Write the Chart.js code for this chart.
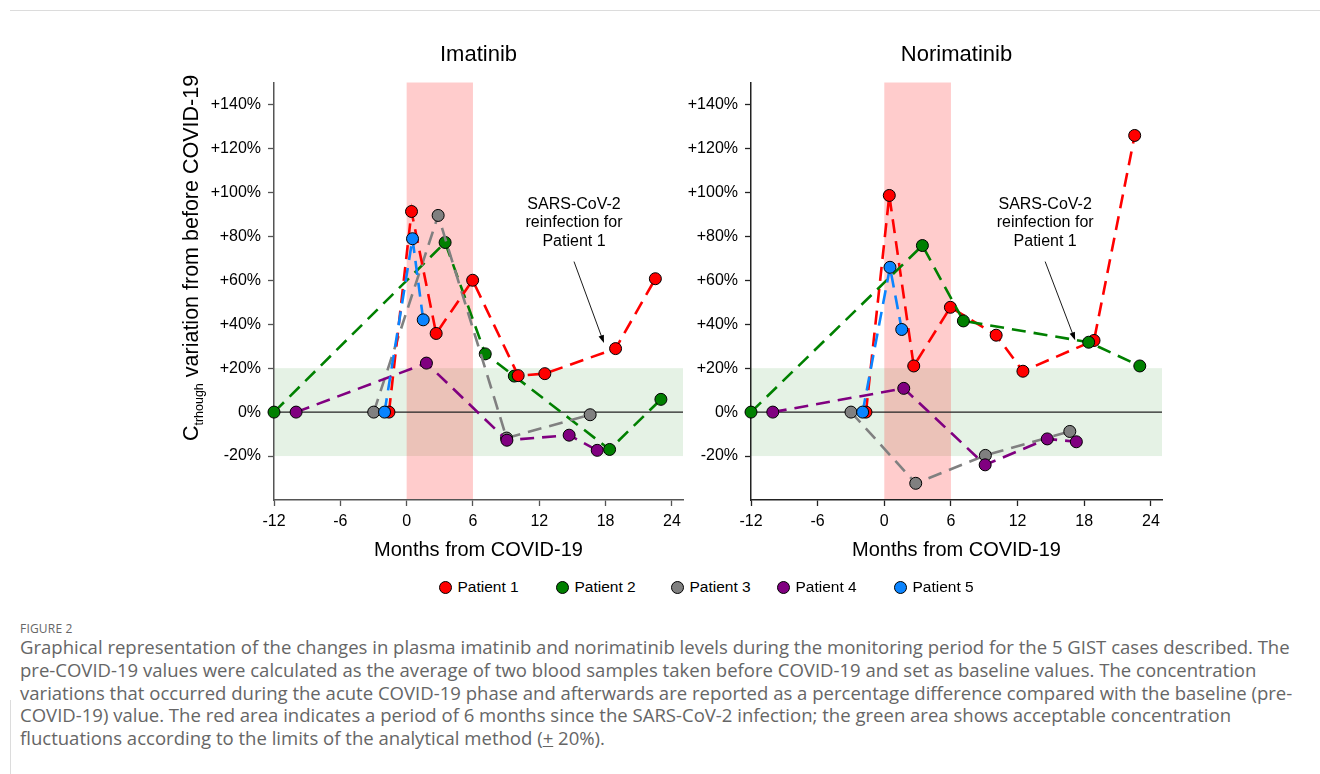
<!DOCTYPE html>
<html>
<head>
<meta charset="utf-8">
<script src="https://cdn.jsdelivr.net/npm/chart.js@4.4.1/dist/chart.umd.min.js"></script>
<style>
html,body{margin:0;padding:0;background:#fff;}
body{width:1320px;height:774px;overflow:hidden;position:relative;font-family:"Liberation Sans",Arial,sans-serif;}
#c1{position:absolute;left:150px;top:30px;}
#c2{position:absolute;left:680px;top:30px;}
#topline{position:absolute;left:10px;top:10px;width:1310px;height:1px;background:#dcdcdc;}
#leftline{position:absolute;left:10px;top:700px;width:1px;height:74px;background:#dcdcdc;}
.leg{position:absolute;top:578px;height:18px;font-size:15.5px;line-height:18px;color:#000;white-space:nowrap;}
.leg i{position:absolute;top:3px;width:11px;height:11px;border:1px solid #000;border-radius:50%;}
.leg span{position:absolute;top:0;}
#figlab{position:absolute;left:20px;top:620px;font-family:"Open Sans","Noto Sans",sans-serif;font-size:12px;color:#666;letter-spacing:0.2px;}
#cap{position:absolute;left:20px;top:636px;font-family:"Open Sans","Noto Sans",sans-serif;color:#666;line-height:22.8px;white-space:nowrap;}
</style>
</head>
<body>
<div id="topline"></div>
<div id="leftline"></div>
<canvas id="c1" width="540" height="545"></canvas>
<canvas id="c2" width="520" height="545"></canvas>
<div id="legend"></div>
<div id="figlab">FIGURE 2</div>
<div id="cap"><span class="ln">Graphical representation of the changes in plasma imatinib and norimatinib levels during the monitoring period for the 5 GIST cases described. The</span><br><span class="ln">pre-COVID-19 values were calculated as the average of two blood samples taken before COVID-19 and set as baseline values. The concentration</span><br><span class="ln">variations that occurred during the acute COVID-19 phase and afterwards are reported as a percentage difference compared with the baseline (pre-</span><br><span class="ln">COVID-19) value. The red area indicates a period of 6 months since the SARS-CoV-2 infection; the green area shows acceptable concentration</span><br><span class="ln">fluctuations according to the limits of the analytical method (<u>+</u> 20%).</span></div>
<script>
// ---------- DATA ----------
const patientNames = ['Patient 1','Patient 2','Patient 3','Patient 4','Patient 5'];
const patientColors = ['#ff0000','#008000','#808080','#800080','#0a84ff'];
const monthTicks = [-12,-6,0,6,12,18,24];
const pctTicks = [-20,0,20,40,60,80,100,120,140];
const noteLines = ['SARS-CoV-2','reinfection for','Patient 1'];

// Imatinib (months from COVID-19, % variation)
const imaP1Months = [-1.6, 0.44, 2.67, 5.97, 10.09, 12.5, 18.9, 22.5];
const imaP1Pct    = [0, 91.3, 35.8, 60.0, 16.6, 17.5, 28.9, 60.7];
const imaP2Months = [-12, 3.48, 7.11, 9.74, 18.36, 23.0];
const imaP2Pct    = [0, 77.2, 26.5, 16.4, -17.0, 5.8];
const imaP3Months = [-2.98, 2.85, 9.04, 16.6];
const imaP3Pct    = [0, 89.5, -11.8, -1.2];
const imaP4Months = [-10.0, 1.79, 9.07, 14.7, 17.24];
const imaP4Pct    = [0, 22.3, -12.8, -10.5, -17.4];
const imaP5Months = [-2.0, 0.53, 1.5];
const imaP5Pct    = [0, 78.9, 42.0];

// Norimatinib
const norP1Months = [-1.65, 0.45, 2.65, 5.95, 10.07, 12.48, 18.88, 22.54];
const norP1Pct    = [0, 98.6, 21.0, 47.7, 35.0, 18.6, 32.6, 125.9];
const norP2Months = [-12, 3.43, 7.12, 18.4, 23.0];
const norP2Pct    = [0, 75.8, 41.5, 31.8, 21.0];
const norP3Months = [-3.0, 2.83, 9.1, 16.7];
const norP3Pct    = [0, -32.4, -19.7, -8.8];
const norP4Months = [-10.04, 1.75, 9.08, 14.67, 17.29];
const norP4Pct    = [0, 10.8, -24.0, -12.2, -13.5];
const norP5Months = [-1.95, 0.51, 1.57];
const norP5Pct    = [0, 65.9, 37.6];

const acutePeriod = [0, 6];
const acceptableRange = [-20, 20];
// ---------------------------

const FONT = '"Liberation Sans", Arial, sans-serif';

function ds(i, xs, ys, order) {
  return {
    label: patientNames[i],
    data: xs.map((x, k) => ({x: x, y: ys[k]})),
    borderColor: patientColors[i],
    backgroundColor: patientColors[i],
    pointBackgroundColor: patientColors[i],
    pointBorderColor: '#000',
    pointBorderWidth: 1,
    pointRadius: 6,
    pointHoverRadius: 6,
    borderWidth: 2.6,
    borderDash: [14, 8],
    tension: 0,
    fill: false,
    clip: false,
    order: order
  };
}

const decorPlugin = {
  id: 'decor',
  beforeDraw(chart, args, o) {
    const {ctx, chartArea: a, scales: {x, y}} = chart;
    ctx.save();
    const yt = y.getPixelForValue(acceptableRange[1]);
    const yb = y.getPixelForValue(acceptableRange[0]);
    ctx.fillStyle = 'rgba(0,128,0,0.1)';
    ctx.fillRect(a.left, yt, a.right - a.left, yb - yt);
    const x0 = x.getPixelForValue(acutePeriod[0]);
    const x1 = x.getPixelForValue(acutePeriod[1]);
    ctx.fillStyle = 'rgba(255,0,0,0.2)';
    ctx.fillRect(x0, a.top, x1 - x0, a.bottom - a.top);
    const yz = y.getPixelForValue(0);
    ctx.strokeStyle = '#222';
    ctx.lineWidth = 1.1;
    ctx.beginPath(); ctx.moveTo(a.left, yz); ctx.lineTo(a.right, yz); ctx.stroke();
    ctx.restore();
  },
  afterDraw(chart, args, o) {
    const {ctx, chartArea: a, scales: {x, y}} = chart;
    ctx.save();
    // panel title
    ctx.fillStyle = '#000';
    ctx.font = '22px ' + FONT;
    ctx.textAlign = 'center';
    ctx.textBaseline = 'middle';
    ctx.fillText(o.title, (a.left + a.right) / 2, o.titleY);
    // note text
    ctx.font = '16px ' + FONT;
    const tx = x.getPixelForValue(o.noteX);
    const ty = y.getPixelForValue(o.noteY);
    noteLines.forEach((t, i) => ctx.fillText(t, tx, ty + i * 18.4));
    // arrow
    const ax0 = x.getPixelForValue(o.arrowFrom[0]), ay0 = y.getPixelForValue(o.arrowFrom[1]);
    const ax1 = x.getPixelForValue(o.arrowTo[0]), ay1 = y.getPixelForValue(o.arrowTo[1]);
    const ang = Math.atan2(ay1 - ay0, ax1 - ax0);
    ctx.strokeStyle = '#000';
    ctx.lineWidth = 0.9;
    ctx.beginPath(); ctx.moveTo(ax0, ay0);
    ctx.lineTo(ax1 - 6 * Math.cos(ang), ay1 - 6 * Math.sin(ang)); ctx.stroke();
    ctx.beginPath();
    ctx.moveTo(ax1, ay1);
    ctx.lineTo(ax1 - 8 * Math.cos(ang) + 2.8 * Math.sin(ang), ay1 - 8 * Math.sin(ang) - 2.8 * Math.cos(ang));
    ctx.lineTo(ax1 - 8 * Math.cos(ang) - 2.8 * Math.sin(ang), ay1 - 8 * Math.sin(ang) + 2.8 * Math.cos(ang));
    ctx.closePath(); ctx.fillStyle = '#000'; ctx.fill();
    // y title with subscript
    if (o.yTitle) {
      const big = '21.5px ' + FONT, small = '12.5px ' + FONT;
      const p1 = 'C', p2 = 'trhough', p3 = ' variation from before COVID-19';
      ctx.font = big; const w1 = ctx.measureText(p1).width, w3 = ctx.measureText(p3).width;
      ctx.font = small; const w2 = ctx.measureText(p2).width;
      const tot = w1 + w2 + w3;
      ctx.translate(o.yTitleX, o.yTitleY);
      ctx.rotate(-Math.PI / 2);
      ctx.textAlign = 'left';
      ctx.textBaseline = 'alphabetic';
      let cx = -tot / 2;
      ctx.font = big; ctx.fillText(p1, cx, 0); cx += w1;
      ctx.font = small; ctx.fillText(p2, cx, 5); cx += w2;
      ctx.font = big; ctx.fillText(p3, cx, 0);
    }
    ctx.restore();
  }
};

function makeChart(id, datasets, opts) {
  const axisColor = opts.axisColor;
  return new Chart(document.getElementById(id), {
    type: 'line',
    data: {datasets: datasets},
    plugins: [decorPlugin],
    options: {
      responsive: false,
      animation: false,
      events: [],
      layout: {padding: {top: 52.5, right: opts.padRight, left: 0, bottom: 0}},
      plugins: {
        legend: {display: false},
        tooltip: {enabled: false},
        decor: opts.decor
      },
      scales: {
        x: {
          type: 'linear', min: -12, max: 25,
          afterBuildTicks: s => { s.ticks = monthTicks.map(v => ({value: v})); },
          afterFit: s => { s.height = 75; },
          ticks: {font: {family: FONT, size: 16}, color: '#000', padding: 6, maxRotation: 0, autoSkip: false,
                  callback: v => String(v)},
          grid: {drawOnChartArea: false, drawTicks: true, tickLength: 6, color: axisColor, tickWidth: 1.3},
          border: {color: axisColor, width: 1.5},
          title: {display: true, text: 'Months from COVID-19', font: {family: FONT, size: 20}, color: '#000',
                  padding: {top: 0, bottom: 13}}
        },
        y: {
          type: 'linear', min: -40, max: 150,
          afterBuildTicks: s => { s.ticks = pctTicks.map(v => ({value: v})); },
          afterFit: s => { s.width = opts.yWidth; },
          ticks: {font: {family: FONT, size: 16}, color: '#000', padding: 7, autoSkip: false,
                  callback: v => (v > 0 ? '+' + v + '%' : v + '%')},
          grid: {drawOnChartArea: false, drawTicks: true, tickLength: 6, color: axisColor, tickWidth: 1.3},
          border: {color: axisColor, width: 1.5}
        }
      }
    }
  });
}

makeChart('c1', [
  ds(0, imaP1Months, imaP1Pct, 1),
  ds(1, imaP2Months, imaP2Pct, 4),
  ds(2, imaP3Months, imaP3Pct, 3),
  ds(3, imaP4Months, imaP4Pct, 2),
  ds(4, imaP5Months, imaP5Pct, 0)
], {
  axisColor: '#555', padRight: 5, yWidth: 124,
  decor: {title: 'Imatinib', titleY: 25, noteX: 15.14, noteY: 94.5,
          arrowFrom: [15.14, 68.5], arrowTo: [17.85, 31.4],
          yTitle: true, yTitleX: 48, yTitleY: 228}
});

makeChart('c2', [
  ds(0, norP1Months, norP1Pct, 2),
  ds(1, norP2Months, norP2Pct, 1),
  ds(2, norP3Months, norP3Pct, 4),
  ds(3, norP4Months, norP4Pct, 3),
  ds(4, norP5Months, norP5Pct, 0)
], {
  axisColor: '#222', padRight: 38, yWidth: 71,
  decor: {title: 'Norimatinib', titleY: 25, noteX: 14.48, noteY: 94.5,
          arrowFrom: [14.48, 68.5], arrowTo: [17.18, 32.7],
          yTitle: false}
});

// legend
const legCenters = [445, 562, 677, 783, 900];
const legend = document.getElementById('legend');
patientNames.forEach((n, i) => {
  const d = document.createElement('div');
  d.className = 'leg';
  d.style.left = (legCenters[i] - 6.5) + 'px';
  d.innerHTML = '<i style="background:' + patientColors[i] + ';left:0"></i><span style="left:19px">' + n + '</span>';
  legend.appendChild(d);
});

// caption fit
(function () {
  const cap = document.getElementById('cap');
  cap.style.fontSize = '16px';
  const first = cap.querySelector('.ln');
  const w = first.getBoundingClientRect().width;
  const fs = 16 * 1270 / w;
  cap.style.fontSize = fs.toFixed(2) + 'px';
})();
</script>
</body>
</html>
